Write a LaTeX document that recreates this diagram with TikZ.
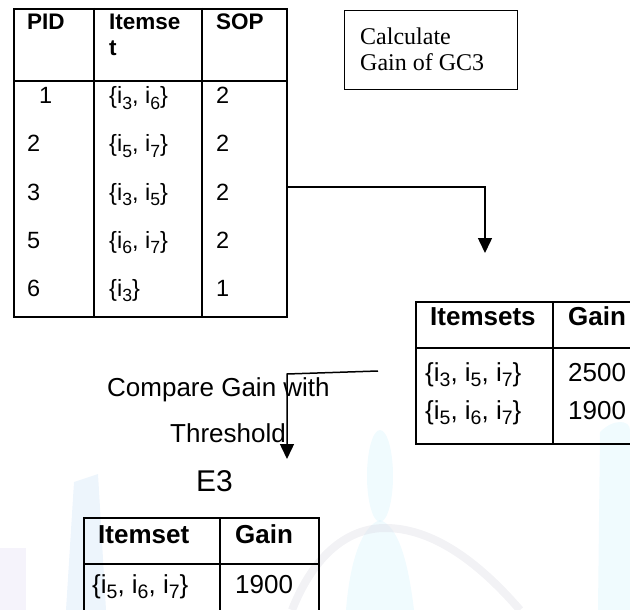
\documentclass[tikz,border=0pt]{standalone}
\usepackage{fontspec}
\setmainfont{Liberation Sans}
\newfontfamily\serifface{Liberation Serif}
\usetikzlibrary{arrows.meta}
\newcommand\isub[1]{i\raisebox{-.22em}{\scalebox{.75}{#1}}}
\definecolor{wmcyan}{RGB}{214,243,252}
\definecolor{wmblue}{RGB}{205,226,246}
\definecolor{wmgrey}{RGB}{218,218,226}
\definecolor{wmlilac}{RGB}{226,222,245}
\begin{document}
\begin{tikzpicture}[x=1pt,y=-1pt,
  rule/.style={line width=1.8pt},
  frame/.style={draw, line width=1.8pt, inner sep=0pt, anchor=north west},
  txt/.style={anchor=base west, inner sep=0pt, font=\fontsize{23.5}{26}\selectfont},
  hd/.style={txt, font=\fontsize{22.5}{26}\selectfont\bfseries},
  txtb/.style={anchor=base west, inner sep=0pt, font=\fontsize{26}{30}\selectfont},
  hdb/.style={txtb, font=\fontsize{26}{30}\selectfont\bfseries},
  arr/.style={line width=1.5pt, -{Triangle[width=14pt,length=15pt]}}]
\useasboundingbox (0,0) rectangle (630,610);
\clip (0,0) rectangle (630,610);

% faint background watermark
\begin{scope}[opacity=.36]
  \fill[wmlilac] (0,548) -- (26,548) -- (26,610) -- (0,610) -- cycle;
  \fill[wmblue] (74,482) -- (98,474) -- (106,610) -- (66,610) -- cycle;
  \fill[wmcyan] (380,476) ellipse [x radius=13, y radius=46];
  \fill[wmcyan] (346,610) .. controls (350,560) and (362,526) .. (380,520)
                .. controls (398,526) and (408,560) .. (414,610) -- cycle;
  \fill[wmcyan] (600,432) .. controls (614,418) and (630,420) .. (630,430)
                -- (630,610) -- (598,610) -- cycle;
  \draw[wmgrey, line width=8pt] (292,610) .. controls (315,552) and (350,528) .. (385,528)
                .. controls (425,528) and (470,552) .. (520,610);
\end{scope}

% PID table
\node[frame, minimum width=273pt, minimum height=308pt] (t1) at (13,8) {};
\draw[rule] (13,81) -- (286,81);
\draw[rule] (94,8) -- (94,316);
\draw[rule] (202,8) -- (202,316);
\node[hd] (h1) at (27,30) {PID};
\node[hd] (h2) at (109,30) {Itemse};
\node[hd] (h2b) at (109,56) {t};
\node[hd] (h3) at (216,30) {SOP};
\foreach \r/\p/\s/\v/\x in {1/1/{\{\isub3, \isub6\}}/2/39, 2/2/{\{\isub5, \isub7\}}/2/27,
    3/3/{\{\isub3, \isub5\}}/2/27, 4/5/{\{\isub6, \isub7\}}/2/27, 5/6/{\{\isub3\}}/1/27}{
  \pgfmathsetmacro\yy{56+48*\r}
  \node[txt] (p\r) at (\x,\yy) {\p};
  \node[txt] (s\r) at (109,\yy) {\s};
  \node[txt] (v\r) at (216,\yy) {\v};
}

% process box
\node[draw, line width=1.2pt, minimum width=173pt, minimum height=79pt,
      anchor=north west, inner sep=0pt] (calc) at (344,10) {};
\node[anchor=base west, inner sep=0pt, font=\serifface\fontsize{24}{26}\selectfont] (c1) at (360,45) {Calculate};
\node[anchor=base west, inner sep=0pt, font=\serifface\fontsize{24}{26}\selectfont] (c2) at (360,71) {Gain of GC3};

% gain table
\node[frame, minimum width=260pt, minimum height=142pt] (t2) at (415,301) {};
\draw[rule] (415,348) -- (675,348);
\draw[rule] (553,301) -- (553,443);
\node[hdb] (g1) at (430,325) {Itemsets};
\node[hdb] (g2) at (568,325) {Gain};
\node[txtb] (g3) at (425,381) {\{\isub3, \isub5, \isub7\}};
\node[txtb] (g4) at (568,381) {2500};
\node[txtb] (g5) at (425,419) {\{\isub5, \isub6, \isub7\}};
\node[txtb] (g6) at (568,419) {1900};

% comparison step
\node[txtb] (cmp1) at (107,396) {Compare Gain with};
\node[txtb] (cmp2) at (170,442) {Threshold};
\node[anchor=base west, inner sep=0pt, font=\fontsize{30}{34}\selectfont] (e3) at (196,491) {E3};

% result table
\node[frame, minimum width=235pt, minimum height=120pt] (t3) at (83,517) {};
\draw[rule] (83,564) -- (318,564);
\draw[rule] (220,517) -- (220,640);
\node[hdb] (r1) at (98,543) {Itemset};
\node[hdb] (r2) at (235,543) {Gain};
\node[txtb] (r3) at (92,593) {\{\isub5, \isub6, \isub7\}};
\node[txtb] (r4) at (235,593) {1900};

% connectors
\coordinate (a1s) at (286,187);
\coordinate (a1e) at (485,253);
\draw[arr] (a1s) -| (a1e);
\coordinate (a2s) at (378,371);
\coordinate (a2c) at (287,374);
\coordinate (a2e) at (287,459);
\draw[arr] (a2s) -- (a2c) -- (a2e);
\end{tikzpicture}
\end{document}
